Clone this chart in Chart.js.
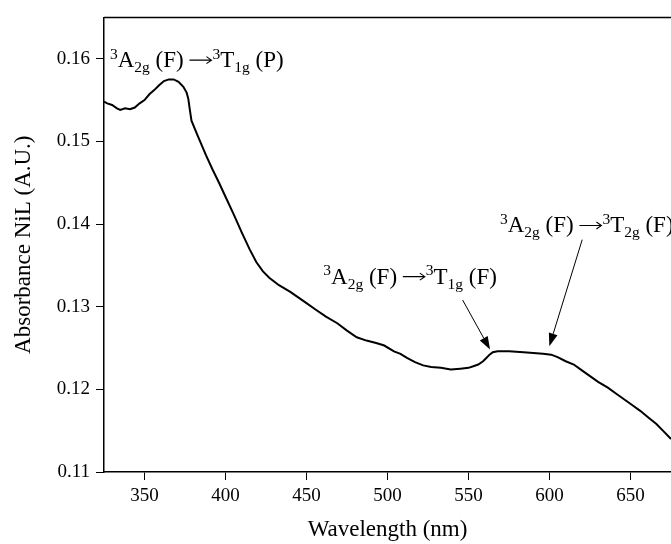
<!DOCTYPE html>
<html>
<head>
<meta charset="utf-8">
<script src="https://cdn.jsdelivr.net/npm/chart.js@4"></script>
<style>
  html, body { margin: 0; padding: 0; background: #fff; overflow: hidden; }
  canvas { display: block; }
</style>
</head>
<body>
<canvas id="spectrum" width="700" height="544"></canvas>
<script>
// --- DATA ---
const wavelengths = [
  325, 327, 330, 333, 335, 338, 341, 344, 347, 350, 353, 356, 359, 362, 365, 368,
  371, 374, 376, 377, 378, 379, 383, 388, 392, 396, 400, 405, 410, 415, 419,
  423, 427, 433, 440, 448, 456, 462, 469, 475, 481, 487, 493, 498, 504, 508, 512,
  517, 522, 527, 533, 539, 545, 550, 553, 556, 559, 561, 563, 565, 568, 575, 584,
  590, 596, 601, 605, 610, 615, 620, 625, 630, 636, 641, 646, 651, 656, 661, 666,
  670, 675
];
const absorbance = [
  0.1548, 0.1546, 0.1544, 0.1540, 0.1538, 0.1540, 0.1539, 0.1541, 0.1546, 0.1550, 0.1557, 0.1562, 0.1568, 0.1573, 0.1575, 0.1575,
  0.1572, 0.1566, 0.1559, 0.1552, 0.1538, 0.1525, 0.1506, 0.1483, 0.1466, 0.1450, 0.1433, 0.1412, 0.1390, 0.1369, 0.1354,
  0.1343, 0.1335, 0.1326, 0.1318, 0.1307, 0.1296, 0.1288, 0.1280, 0.1271, 0.1263, 0.1259, 0.1256, 0.1253, 0.1246, 0.1243, 0.1238,
  0.1233, 0.1229, 0.1227, 0.1226, 0.1224, 0.1225, 0.1226, 0.1228, 0.1230, 0.1234, 0.1238, 0.1242, 0.1245, 0.1246, 0.1246, 0.1245,
  0.1244, 0.1243, 0.1242, 0.1239, 0.1234, 0.1230, 0.1223, 0.1216, 0.1209, 0.1202, 0.1195, 0.1188, 0.1181, 0.1174, 0.1166, 0.1158,
  0.1150, 0.1140
];
const xTicks = [350, 400, 450, 500, 550, 600, 650];
const yTicks = [0.11, 0.12, 0.13, 0.14, 0.15, 0.16];

// transition labels: pieces are [text, kind] with kind '' | 'sup' | 'sub' | 'arrow'
const transitionLabels = [
  [['3', 'sup'], ['A', ''], ['2g', 'sub'], [' (F) ', ''], ['', 'arrow'], ['3', 'sup'], ['T', ''], ['1g', 'sub'], [' (P)', '']],
  [['3', 'sup'], ['A', ''], ['2g', 'sub'], [' (F) ', ''], ['', 'arrow'], ['3', 'sup'], ['T', ''], ['1g', 'sub'], [' (F)', '']],
  [['3', 'sup'], ['A', ''], ['2g', 'sub'], [' (F) ', ''], ['', 'arrow'], ['3', 'sup'], ['T', ''], ['2g', 'sub'], [' (F)', '']]
];

const SERIF = '"Liberation Serif", "Times New Roman", serif';

// --- ANNOTATIONS (placed in data units) ---
const labelAnchors = [
  { x: 328.7, y: 0.15898 },
  { x: 460.4, y: 0.13279 },
  { x: 569.4, y: 0.13898 }
];
const arrows = [
  { from: { x: 546.4, y: 0.1308 }, to: { x: 563.3, y: 0.12481 } },
  { from: { x: 620.2, y: 0.13811 }, to: { x: 599.9, y: 0.12521 } }
];

function drawRichText(ctx, pieces, x, y) {
  let cx = x;
  pieces.forEach(([txt, kind]) => {
    if (kind === 'arrow') {
      // long text arrow, like Times' right arrow glyph
      const w = 22, ay = y - 7;
      ctx.lineWidth = 1.1;
      ctx.beginPath();
      ctx.moveTo(cx, ay);
      ctx.lineTo(cx + w, ay);
      ctx.moveTo(cx + w - 5, ay - 3.5);
      ctx.lineTo(cx + w, ay);
      ctx.lineTo(cx + w - 5, ay + 3.5);
      ctx.stroke();
      cx += w + 1;
      return;
    }
    let size = 23, dy = 0;
    if (kind === 'sup') { size = 15.5; dy = -8.5; }
    if (kind === 'sub') { size = 15.5; dy = 5; }
    ctx.font = size + 'px ' + SERIF;
    ctx.fillText(txt, cx, y + dy);
    cx += ctx.measureText(txt).width;
  });
}

function drawArrow(ctx, x1, y1, x2, y2) {
  const ang = Math.atan2(y2 - y1, x2 - x1);
  const headLen = 13, headW = 4.5;
  const bx = x2 - headLen * Math.cos(ang), by = y2 - headLen * Math.sin(ang);
  ctx.beginPath();
  ctx.moveTo(x1, y1);
  ctx.lineTo(bx, by);
  ctx.lineWidth = 1;
  ctx.stroke();
  ctx.beginPath();
  ctx.moveTo(x2, y2);
  ctx.lineTo(bx + headW * Math.sin(ang), by - headW * Math.cos(ang));
  ctx.lineTo(bx - headW * Math.sin(ang), by + headW * Math.cos(ang));
  ctx.closePath();
  ctx.fill();
}

const annotationPlugin = {
  id: 'annotations',
  afterDraw(chart) {
    const { ctx, chartArea, scales } = chart;
    ctx.save();
    // top frame line
    ctx.strokeStyle = '#000';
    ctx.lineWidth = 1.5;
    ctx.beginPath();
    ctx.moveTo(chartArea.left, chartArea.top);
    ctx.lineTo(chartArea.right, chartArea.top);
    ctx.stroke();

    ctx.fillStyle = '#000';
    ctx.textBaseline = 'alphabetic';
    ctx.textAlign = 'left';
    labelAnchors.forEach((a, i) => {
      drawRichText(ctx, transitionLabels[i], scales.x.getPixelForValue(a.x), scales.y.getPixelForValue(a.y));
    });
    arrows.forEach(a => {
      drawArrow(ctx,
        scales.x.getPixelForValue(a.from.x), scales.y.getPixelForValue(a.from.y),
        scales.x.getPixelForValue(a.to.x), scales.y.getPixelForValue(a.to.y));
    });
    ctx.restore();
  }
};

new Chart(document.getElementById('spectrum'), {
  type: 'line',
  data: {
    datasets: [{
      data: wavelengths.map((w, i) => ({ x: w, y: absorbance[i] })),
      borderColor: '#000',
      borderWidth: 2,
      pointRadius: 0,
      tension: 0,
      fill: false
    }]
  },
  options: {
    responsive: false,
    animation: false,
    layout: { padding: { top: 12, right: 29, left: 0, bottom: 0 } },
    plugins: { legend: { display: false }, tooltip: { enabled: false } },
    scales: {
      x: {
        type: 'linear',
        min: 325,
        max: 675,
        afterBuildTicks: s => { s.ticks = xTicks.map(v => ({ value: v })); },
        afterFit: s => { s.height = 72; },
        grid: { drawOnChartArea: false, color: '#000', tickLength: 8, lineWidth: 1 },
        border: { color: '#000', width: 1.5 },
        ticks: { color: '#000', font: { family: SERIF, size: 19 }, padding: 5, maxRotation: 0 },
        title: {
          display: true, text: 'Wavelength (nm)', color: '#000',
          font: { family: SERIF, size: 23 }, padding: { top: 0, bottom: 0 }
        }
      },
      y: {
        type: 'linear',
        min: 0.11,
        max: 0.165,
        afterBuildTicks: s => { s.ticks = yTicks.map(v => ({ value: v })); },
        afterFit: s => { s.width = 104; },
        grid: { drawOnChartArea: false, color: '#000', tickLength: 8, lineWidth: 1 },
        border: { color: '#000', width: 1.5 },
        ticks: {
          color: '#000', font: { family: SERIF, size: 19 }, padding: 6,
          callback: v => v.toFixed(2)
        },
        title: {
          display: true, text: 'Absorbance NiL (A.U.)', color: '#000',
          font: { family: SERIF, size: 23 }, padding: { top: 10, bottom: 0 }
        }
      }
    }
  },
  plugins: [annotationPlugin]
});
</script>
</body>
</html>
